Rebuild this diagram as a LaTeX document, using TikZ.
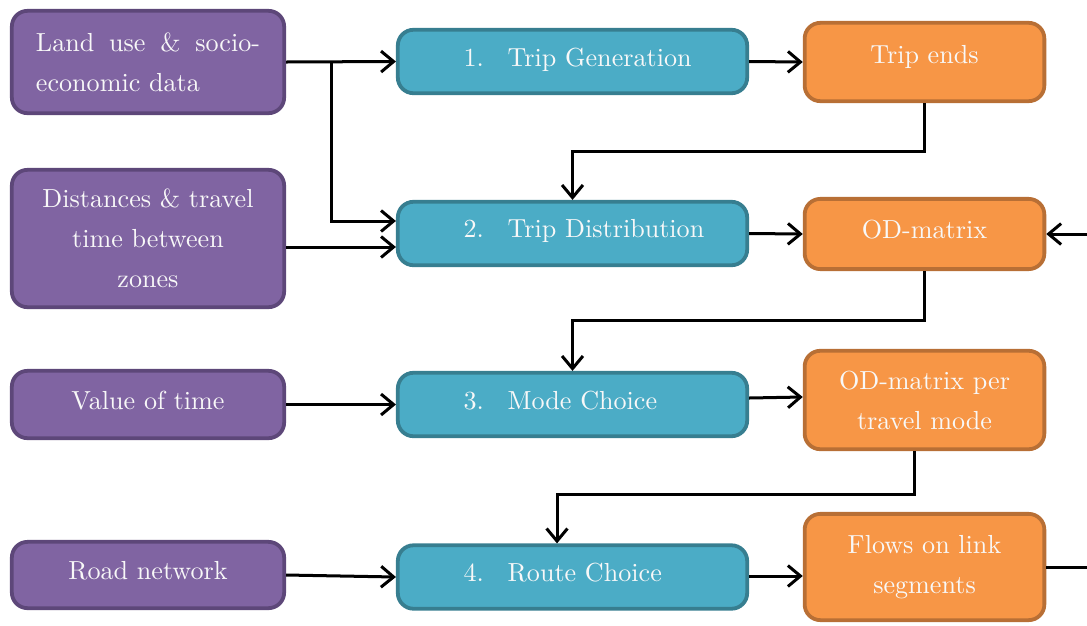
\documentclass[tikz,border=0pt]{standalone}
\usetikzlibrary{arrows.meta,calc}
\definecolor{pfill}{HTML}{8064A2}
\definecolor{pdraw}{HTML}{5D4779}
\definecolor{bfill}{HTML}{4BACC6}
\definecolor{bdraw}{HTML}{377E90}
\definecolor{ofill}{HTML}{F79646}
\definecolor{odraw}{HTML}{B86F35}
\definecolor{txt}{HTML}{F8F8F8}
\tikzset{
  box/.style={rounded corners=6pt, line width=1.45pt, text=txt,
    font=\fontsize{10}{15.3}\selectfont},
  pbox/.style={box, fill=pfill, draw=pdraw, minimum width=104.3pt},
  bbox/.style={box, fill=bfill, draw=bdraw, minimum width=133.8pt, minimum height=24.3pt,
    text width=133.8pt, inner xsep=0pt, align=left, text depth=3.5pt},
  obox/.style={box, fill=ofill, draw=odraw, minimum width=91.8pt, align=center},
  conn/.style={line width=1.15pt, -{Straight Barb[length=4.8pt,width=8pt,line width=1.15pt]}},
}
\newcommand{\stepnum}[1]{\hspace*{25.2pt}\makebox[16.9pt][l]{#1}}
\begin{document}
\begin{tikzpicture}[x=0.383pt,y=-0.383pt]
\useasboundingbox (0,0) rectangle (1087,625);
% inputs
\node[pbox, minimum height=39.2pt, text width=85.8pt, align=justify] (P1) at (148,62)
  {Land use \& socio-economic data};
\node[pbox, minimum height=52.6pt, align=center] (P2) at (148,238.5)
  {Distances \& travel\\time between\\zones};
\node[pbox, minimum height=25.8pt, align=center, text depth=3.5pt] (P3) at (148,404.5) {Value of time};
\node[pbox, minimum height=25.4pt, align=center, text depth=3.5pt] (P4) at (148,575) {Road network};
% steps
\node[bbox] (B1) at (572.5,61.5) {\stepnum{1.}Trip Generation};
\node[bbox] (B2) at (572.5,233.5) {\stepnum{2.}Trip Distribution};
\node[bbox] (B3) at (572.5,404.5) {\stepnum{3.}Mode Choice};
\node[bbox] (B4) at (572.5,577) {\stepnum{4.}Route Choice};
% outputs
\node[obox, minimum height=30pt, text depth=6pt] (O1) at (924.5,62) {Trip ends};
\node[obox, minimum height=26.9pt, text depth=3.5pt] (O2) at (924.5,234) {OD-matrix};
\node[obox, minimum height=37.7pt] (O3) at (924.5,400) {OD-matrix per\\travel mode};
\node[obox, minimum height=40.7pt] (O4) at (924.5,567) {Flows on link\\segments};
% connectors
\coordinate (j1) at (331,61);
\coordinate (b2a) at ($(B2.west)+(0,-12.5)$);
\coordinate (b2b) at ($(B2.west)+(0,13.5)$);
\draw[conn] (P1.east) -- (B1.west);
\draw[conn] (j1) |- (b2a);
\draw[conn] (P2.east |- b2b) -- (b2b);
\draw[conn] (P3.east) -- (B3.west);
\draw[conn] (P4.east) -- (B4.west);
\draw[conn] (B1.east) -- (O1.west);
\draw[conn] (B2.east) -- (O2.west);
\coordinate (b3e) at ($(B3.east)+(0,-6.5)$);
\coordinate (o3w) at ($(O3.west)+(0,-3)$);
\draw[conn] (b3e) -- (o3w);
\coordinate (b4e) at ($(B4.east)+(0,-1)$);
\draw[conn] (b4e) -- (O4.west |- b4e);
\draw[conn] (O1.south) -- ++(0,48) -| (B2.north);
\draw[conn] (O2.south) -- ++(0,49) -| (B3.north);
\coordinate (o3s) at ($(O3.south)+(-10,0)$);
\coordinate (b4n) at ($(B4.north)+(-15.5,0)$);
\draw[conn] (o3s) -- ++(0,43) -| (b4n);
\draw[conn] (O4.east) -- ++(80,0) |- (O2.east);
\end{tikzpicture}
\end{document}
